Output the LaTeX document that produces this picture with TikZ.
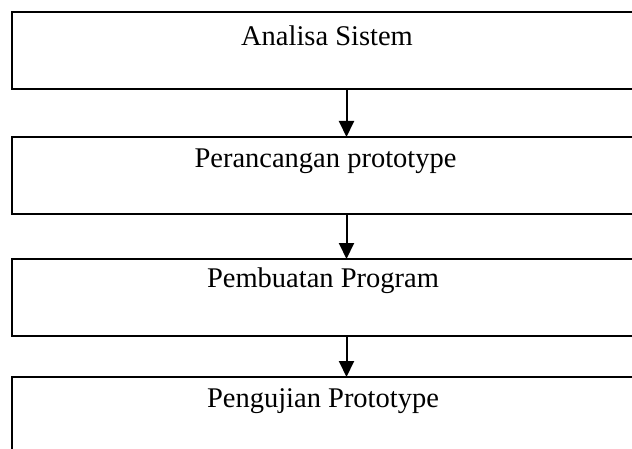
\documentclass[tikz,border=0pt]{standalone}
\usepackage{fontspec}
\setmainfont{Liberation Serif}
\usetikzlibrary{arrows.meta}
\begin{document}
\begin{tikzpicture}[x=1pt,y=1pt,
  box/.style={draw=black, line width=2pt, rectangle, inner sep=0pt, outer sep=0pt, fill=white},
  lbl/.style={anchor=base, inner sep=0pt, font=\fontsize{28.5}{32}\selectfont},
  arr/.style={line width=2pt, -{Triangle[length=16pt,width=15pt]}}]
\useasboundingbox (0,0) rectangle (632,448);
\begin{scope}
\clip (0,0) rectangle (632,448);
\node[box, minimum width=622pt, minimum height=77pt] (b1) at (323,397.5) {};
\node[box, minimum width=622pt, minimum height=77pt] (b2) at (323,272.5) {};
\node[box, minimum width=622pt, minimum height=77pt] (b3) at (323,150.5) {};
\node[box, minimum width=622pt, minimum height=85pt] (b4) at (323,28.5) {};
\end{scope}
\coordinate (ax) at (346.5,0);
\node[lbl] (t1) at (327,402.5) {Analisa Sistem};
\node[lbl] (t2) at (325.5,280) {Perancangan prototype};
\node[lbl] (t3) at (323,161) {Pembuatan Program};
\node[lbl] (t4) at (323,41) {Pengujian Prototype};
\draw[arr] (b1.south -| ax) -- (b2.north -| ax);
\draw[arr] (b2.south -| ax) -- (b3.north -| ax);
\draw[arr] (b3.south -| ax) -- (b4.north -| ax);
\end{tikzpicture}
\end{document}
